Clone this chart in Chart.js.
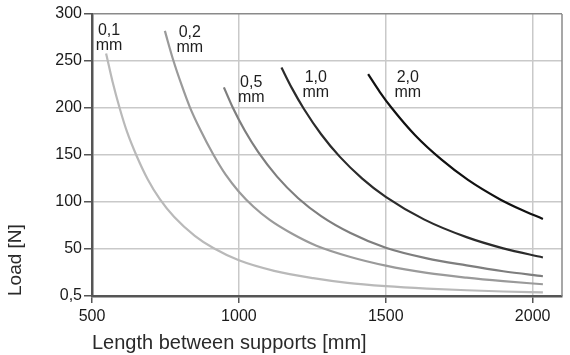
<!DOCTYPE html>
<html>
<head>
<meta charset="utf-8">
<script src="https://cdn.jsdelivr.net/npm/chart.js@4/dist/chart.umd.min.js"></script>
<style>
  html, body { margin: 0; padding: 0; background: #ffffff; }
  #wrap { width: 570px; height: 355px; }
</style>
</head>
<body>
<div id="wrap"><canvas id="c" width="570" height="355"></canvas></div>
<script>
// ---- data ----
const seriesNames = ["0,1 mm", "0,2 mm", "0,5 mm", "1,0 mm", "2,0 mm"];
const curve01 = [[548,258],[570,228],[595,199],[620,174],[652,149],[690,124],[731,103],[780,84],[850,64],[913,51],[1000,38],[1120,26.8],[1253,19],[1370,14],[1500,10.5],[1640,7.9],[1775,6.1],[1900,4.8],[2035,3.8]];
const curve02 = [[748,282],[777,250.5],[805,224.5],[833,201],[870,176],[912,151],[955,129],[1000,111],[1050,95],[1105,81],[1180,66.5],[1264,53.5],[1380,41.5],[1500,32.3],[1640,24.6],[1775,19.5],[1900,15.8],[2035,12.5]];
const curve05 = [[949,222],[980,200],[1020,176],[1066,153],[1130,127],[1202,104],[1280,85],[1380,67],[1500,51.3],[1640,40],[1775,32.5],[1900,26.3],[2035,21]];
const curve10 = [[1145,243],[1180,221.4],[1221,199.2],[1280,172.1],[1344,148],[1420,124.9],[1500,105.4],[1630,81.5],[1775,62.6],[1900,50.7],[2035,41]];
const curve20 = [[1440,236],[1480,217],[1519,200.5],[1600,171],[1690,145],[1780,123.5],[1888,103],[1960,92],[2035,82]];
const xTickValues = [500, 1000, 1500, 2000];
const yTickValues = [0, 50, 100, 150, 200, 250, 300];
const yTickLabels = ["0,5", "50", "100", "150", "200", "250", "300"];
const curveLabelTop = ["0,1", "0,2", "0,5", "1,0", "2,0"];
const curveLabelBottom = ["mm", "mm", "mm", "mm", "mm"];
// label anchor (centre x, first baseline y) in data units
const labelAnchorX = [558, 833, 1042, 1262, 1575];
const labelAnchorY = [277.5, 276, 222, 227.5, 227.5];

const curves = [curve01, curve02, curve05, curve10, curve20];
const colors = ["#b9b9b9", "#9a9a9a", "#7e7e7e", "#2b2b2b", "#111111"];

const datasets = curves.map((c, i) => ({
  label: seriesNames[i],
  data: c.map(p => ({x: p[0], y: p[1]})),
  borderColor: colors[i],
  borderWidth: 2.2,
  pointRadius: 0,
  fill: false,
  cubicInterpolationMode: 'monotone'
}));

const frameAndLabels = {
  id: 'frameAndLabels',
  beforeDatasetsDraw(chart) {
    const {ctx, chartArea} = chart;
    ctx.save();
    ctx.strokeStyle = '#8a8a8a';
    ctx.lineWidth = 1.5;
    ctx.beginPath();
    ctx.moveTo(chartArea.right, chartArea.top);
    ctx.lineTo(chartArea.right, chartArea.bottom);
    ctx.stroke();
    ctx.restore();
  },
  afterDatasetsDraw(chart) {
    const {ctx, scales} = chart;
    ctx.save();
    ctx.fillStyle = '#1e1e1e';
    ctx.font = '16px "Liberation Sans", Arial, sans-serif';
    ctx.textAlign = 'center';
    ctx.textBaseline = 'alphabetic';
    for (let i = 0; i < curveLabelTop.length; i++) {
      const x = scales.x.getPixelForValue(labelAnchorX[i]);
      const y = scales.y.getPixelForValue(labelAnchorY[i]);
      ctx.fillText(curveLabelTop[i], x, y);
      ctx.fillText(curveLabelBottom[i], x, y + 15);
    }
    ctx.restore();
  }
};

new Chart(document.getElementById('c'), {
  type: 'line',
  data: { datasets },
  options: {
    responsive: false,
    animation: false,
    layout: { padding: { top: 14, right: 8, left: 0, bottom: 0 } },
    plugins: { legend: { display: false }, tooltip: { enabled: false } },
    scales: {
      x: {
        type: 'linear',
        min: 500,
        max: 2100,
        afterBuildTicks: s => { s.ticks = xTickValues.map(v => ({value: v})); },
        afterFit: s => { s.height = 59; },
        ticks: {
          color: '#1a1a1a',
          font: { family: '"Liberation Sans", Arial, sans-serif', size: 16 },
          padding: 4,
          maxRotation: 0,
          callback: v => String(v)
        },
        grid: {
          color: c => (c.tick && c.tick.value === 500) ? 'rgba(0,0,0,0)' : '#c9c9c9',
          lineWidth: 1.5,
          tickLength: 7,
          tickColor: '#555',
          tickWidth: 1.5
        },
        border: { color: '#555', width: 2.5 },
        title: {
          display: true,
          text: 'Length between supports [mm]',
          align: 'start',
          color: '#2a2a2a',
          font: { family: '"Liberation Sans", Arial, sans-serif', size: 20 },
          padding: { top: 0, bottom: 0 }
        }
      },
      y: {
        type: 'linear',
        min: 0,
        max: 300,
        afterBuildTicks: s => { s.ticks = yTickValues.map(v => ({value: v})); },
        afterFit: s => { s.width = 92; },
        ticks: {
          color: '#1a1a1a',
          font: { family: '"Liberation Sans", Arial, sans-serif', size: 16 },
          padding: 2,
          callback: (v, i) => yTickLabels[i]
        },
        grid: {
          color: c => (c.tick && c.tick.value === 0) ? 'rgba(0,0,0,0)' : (c.tick && c.tick.value === 300 ? '#8a8a8a' : '#c9c9c9'),
          lineWidth: 1.5,
          tickLength: 8,
          tickColor: '#555',
          tickWidth: 1.5
        },
        border: { color: '#555', width: 2.5 },
        title: {
          display: true,
          text: 'Load [N]',
          align: 'start',
          color: '#2a2a2a',
          font: { family: '"Liberation Sans", Arial, sans-serif', size: 19 },
          padding: { top: 4, bottom: 0 }
        }
      }
    }
  },
  plugins: [frameAndLabels]
});
</script>
</body>
</html>
